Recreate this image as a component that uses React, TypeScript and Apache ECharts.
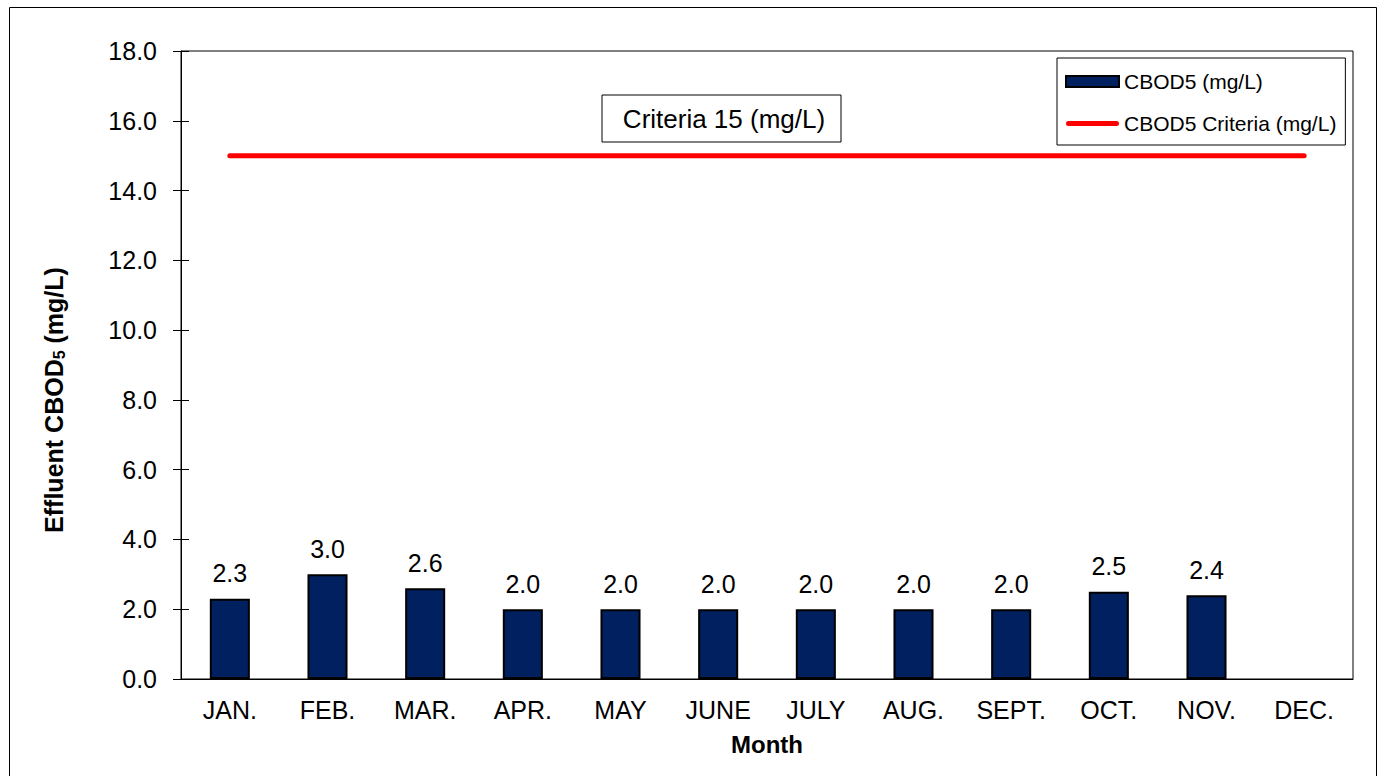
import React, { useEffect, useRef } from "react";
import * as echarts from "echarts";

const months = ["JAN.", "FEB.", "MAR.", "APR.", "MAY", "JUNE", "JULY", "AUG.", "SEPT.", "OCT.", "NOV.", "DEC."];
const cbod5 = [2.3, 3.0, 2.6, 2.0, 2.0, 2.0, 2.0, 2.0, 2.0, 2.5, 2.4, null];
const criteria = [15, 15, 15, 15, 15, 15, 15, 15, 15, 15, 15, 15];
const barName = "CBOD5 (mg/L)";
const lineName = "CBOD5 Criteria (mg/L)";
const criteriaNote = "Criteria 15 (mg/L)";

const FONT = "'Liberation Sans', Arial, sans-serif";
const LINE_ICON = "path://M0,0 L0.01,0 M2.5,3 L50.5,3 A2.5,2.5 0 0 1 50.5,8 L2.5,8 A2.5,2.5 0 0 1 2.5,3 Z M53,11 L52.99,11";

export default function App() {
  const ref = useRef<HTMLDivElement>(null);
  useEffect(() => {
    if (!ref.current) return;
    const chart = echarts.init(ref.current, null, { renderer: "svg" });
    chart.setOption({
      animation: false,
      backgroundColor: "#ffffff",
      textStyle: { fontFamily: FONT, color: "#000" },
      grid: {
        left: 181,
        top: 51,
        right: 28,
        bottom: 97,
        show: true,
        borderColor: "#000",
        borderWidth: 1,
        backgroundColor: "transparent",
      },
      legend: {
        orient: "vertical",
        left: 1057,
        top: 58,
        padding: [13, 9, 11, 8],
        itemWidth: 53,
        itemHeight: 11,
        itemGap: 21,
        borderColor: "#000",
        borderWidth: 1,
        backgroundColor: "#fff",
        textStyle: { fontFamily: FONT, fontSize: 21, color: "#000" },
        data: [
          { name: barName, icon: "rect" },
          { name: lineName, icon: LINE_ICON, itemStyle: { color: "#ff0000", borderWidth: 0 } },
        ],
      },
      xAxis: {
        type: "category",
        data: months,
        boundaryGap: true,
        axisLine: { lineStyle: { color: "#000", width: 1 } },
        axisTick: { show: false },
        axisLabel: { fontFamily: FONT, fontSize: 25, color: "#000", margin: 18 },
        name: "Month",
        nameLocation: "middle",
        nameGap: 53,
        nameTextStyle: { fontFamily: FONT, fontSize: 24, fontWeight: "bold", color: "#000" },
      },
      yAxis: [
        {
          type: "value",
          min: 0,
          max: 18,
          interval: 2,
          axisLine: { show: true, lineStyle: { color: "#000", width: 1 } },
          axisTick: { show: true, length: 8, lineStyle: { color: "#000" } },
          splitLine: { show: false },
          axisLabel: {
            fontFamily: FONT,
            fontSize: 25,
            color: "#000",
            margin: 24,
            formatter: (v: number) => v.toFixed(1),
          },
        },
        {
          type: "value",
          position: "left",
          min: 0,
          max: 18,
          interval: 2,
          axisLine: { show: false },
          axisTick: { show: true, inside: true, length: 8, lineStyle: { color: "#000" } },
          splitLine: { show: false },
          axisLabel: { show: false },
        },
      ],
      series: [
        {
          name: barName,
          type: "bar",
          data: cbod5,
          barWidth: "41%",
          itemStyle: { color: "#002060", borderColor: "#000", borderWidth: 2 },
          label: {
            show: true,
            position: "top",
            distance: 13,
            fontFamily: FONT,
            fontSize: 25,
            color: "#000",
            formatter: (p: any) => (p.value == null ? "" : Number(p.value).toFixed(1)),
          },
        },
        {
          name: lineName,
          type: "line",
          data: criteria,
          symbol: "none",
          showSymbol: false,
          lineStyle: { color: "#ff0000", width: 5, cap: "round" },
          itemStyle: { color: "#ff0000" },
        },
      ],
      graphic: [
        {
          type: "rect",
          left: 7,
          top: 5,
          shape: { x: 0, y: 0, width: 1367, height: 800 },
          style: { fill: "none", stroke: "#000", lineWidth: 1 },
          silent: true,
          z: -10,
        },
        {
          type: "rect",
          shape: { x: 602, y: 95, width: 239, height: 47 },
          style: { fill: "#fff", stroke: "#000", lineWidth: 1 },
          z: 10,
        },
        {
          type: "text",
          x: 724,
          y: 119,
          style: {
            text: criteriaNote,
            fontFamily: FONT,
            fontSize: 26,
            fill: "#000",
            align: "center",
            verticalAlign: "middle",
          },
          z: 11,
        },
        {
          type: "text",
          x: 54,
          y: 400,
          rotation: Math.PI / 2,
          style: {
            text: "{a|Effluent CBOD}{b|5}{a| (mg/L)}",
            align: "center",
            verticalAlign: "middle",
            rich: {
              a: { fontFamily: FONT, fontSize: 25, fontWeight: "bold", fill: "#000", color: "#000" },
              b: { fontFamily: FONT, fontSize: 16, fontWeight: "bold", fill: "#000", color: "#000", padding: [10, 0, 0, 0] },
            },
          },
          z: 11,
        },
      ],
    });
    return () => chart.dispose();
  }, []);
  return <div ref={ref} style={{ position: "absolute", left: 0, top: 0, width: 1381, height: 776 }} />;
}
